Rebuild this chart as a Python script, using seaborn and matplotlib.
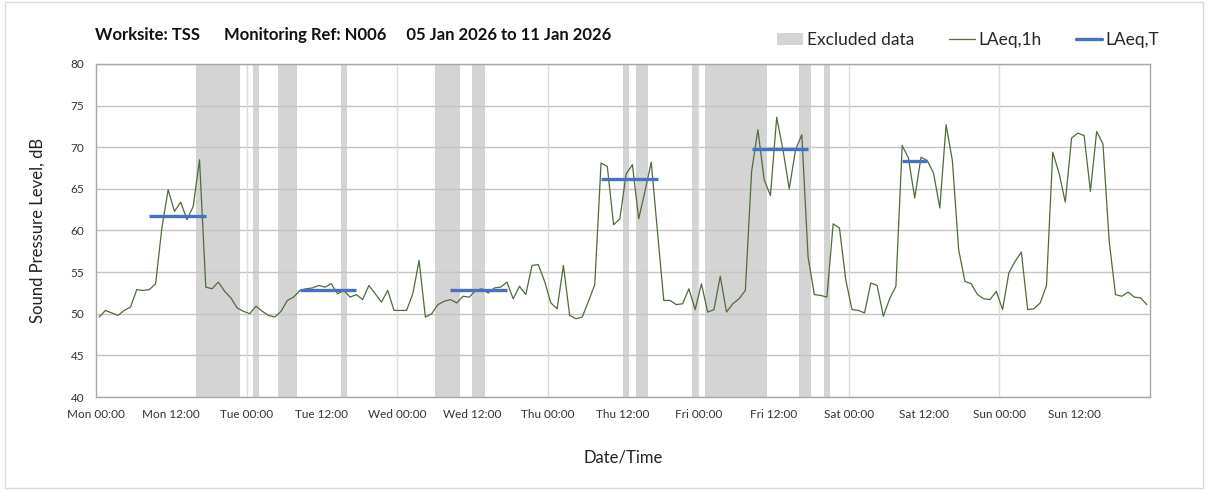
"""
Weekly noise monitoring chart: hourly LAeq with excluded periods and LAeq,T.
"""

import matplotlib
matplotlib.use("Agg")
import matplotlib.pyplot as plt
import numpy as np
import pandas as pd
import seaborn as sns
from matplotlib.lines import Line2D
from matplotlib.patches import Patch, Rectangle

sns.set_style("white")
plt.rcParams["font.family"] = ["Lato", "DejaVu Sans"]

# ---------------------------------------------------------------------------
# Data
# ---------------------------------------------------------------------------
day_names = ["Mon", "Tue", "Wed", "Thu", "Fri", "Sat", "Sun"]

laeq_mon = [49.6, 50.4, 50.1, 49.8, 50.4, 50.8, 52.9, 52.8, 52.9, 53.6, 60.3, 64.9,
            62.3, 63.4, 61.3, 62.9, 68.5, 53.2, 53.0, 53.8, 52.7, 51.9, 50.7, 50.3]
laeq_tue = [50.0, 50.9, 50.3, 49.8, 49.6, 50.3, 51.6, 52.0, 52.8, 53.0, 53.1, 53.4,
            53.2, 53.6, 52.4, 52.8, 52.0, 52.3, 51.7, 53.4, 52.4, 51.4, 52.8, 50.4]
laeq_wed = [50.4, 50.4, 52.4, 56.4, 49.6, 50.0, 51.1, 51.5, 51.7, 51.3, 52.1, 52.0,
            52.8, 53.0, 52.5, 53.1, 53.2, 53.8, 51.8, 53.3, 52.3, 55.8, 55.9, 53.9]
laeq_thu = [51.3, 50.6, 55.8, 49.8, 49.4, 49.6, 51.5, 53.5, 68.1, 67.7, 60.7, 61.4,
            66.8, 67.9, 61.4, 64.7, 68.2, 59.8, 51.6, 51.6, 51.1, 51.2, 53.0, 50.5]
laeq_fri = [53.6, 50.2, 50.5, 54.5, 50.2, 51.2, 51.8, 52.8, 67.1, 72.1, 66.1, 64.2,
            73.6, 69.7, 65.0, 69.7, 71.5, 56.8, 52.3, 52.2, 52.0, 60.8, 60.3, 54.1]
laeq_sat = [50.5, 50.4, 50.1, 53.7, 53.4, 49.7, 51.8, 53.3, 70.2, 68.7, 63.9, 68.8,
            68.4, 66.9, 62.7, 72.7, 68.4, 57.7, 53.9, 53.6, 52.3, 51.8, 51.7, 52.7]
laeq_sun = [50.5, 54.9, 56.3, 57.4, 50.5, 50.6, 51.3, 53.4, 69.4, 66.9, 63.4, 71.1,
            71.7, 71.4, 64.7, 71.9, 70.4, 58.7, 52.3, 52.1, 52.6, 52.0, 51.9, 51.1]

# excluded periods, hours from Mon 00:00
excl_start = [16, 25, 29, 39, 54, 60, 84, 86, 95, 97, 112, 116]
excl_end = [23, 26, 32, 40, 58, 62, 85, 88, 96, 107, 114, 117]

# LAeq,T assessment periods
period_start = [8, 32, 56, 80, 104, 128]
period_end = [18, 42, 66, 90, 114, 133]
laeq_t = [61.7, 52.8, 52.8, 66.2, 69.8, 68.4]

laeq_1h = laeq_mon + laeq_tue + laeq_wed + laeq_thu + laeq_fri + laeq_sat + laeq_sun
df = pd.DataFrame({"hour": np.arange(len(laeq_1h)) + 0.5, "LAeq_1h": laeq_1h})

n_hours = 24 * len(day_names)
tick_labels = [f"{d} {t}" for d in day_names for t in ("00:00", "12:00")] + [""]

GREEN = "#4f6b3b"
BLUE = "#4472c4"
GREY = "#d4d4d4"

# ---------------------------------------------------------------------------
# Plot
# ---------------------------------------------------------------------------
fig = plt.figure(figsize=(12.08, 4.9), dpi=100)
ax = fig.add_axes([96 / 1208, 1 - 397 / 490, (1150 - 96) / 1208, (397 - 64) / 490])

for s, e in zip(excl_start, excl_end):
    ax.axvspan(s, e, color=GREY, lw=0, zorder=0)

ax.set_axisbelow(True)
ax.grid(axis="y", color="#c4c4c4", lw=1.0)
for d in range(24, n_hours, 24):
    ax.axvline(d, color="#dcdcdc", lw=1.0, zorder=0.6)

sns.lineplot(data=df, x="hour", y="LAeq_1h", ax=ax, color=GREEN, lw=0.9, zorder=3)

for s, e, v in zip(period_start, period_end, laeq_t):
    ax.hlines(v, s + 0.5, e - 0.5, color=BLUE, lw=2.4, zorder=4, capstyle="butt")

ax.set_xlim(0, n_hours)
ax.set_ylim(40, 80)
ax.set_xticks(range(0, n_hours + 1, 12))
ax.set_xticklabels(tick_labels)
ax.set_yticks(range(40, 81, 5))
ax.tick_params(axis="both", labelsize=8.5, labelcolor="#333333", length=5,
               color="#a0a0a0", direction="out")
ax.tick_params(axis="x", pad=4)
for sp in ax.spines.values():
    sp.set_color("#a8a8a8")
    sp.set_linewidth(1.0)

ax.set_xlabel("Date/Time", fontsize=12, color="#222222", labelpad=21)
ax.set_ylabel("Sound Pressure Level, dB", fontsize=12, color="#222222", labelpad=18)

fig.text(95 / 1208, 1 - 35 / 490,
         "Worksite: TSS      Monitoring Ref: N006     05 Jan 2026 to 11 Jan 2026",
         fontsize=12, fontweight="bold", va="center", ha="left", color="#111111")

handles = [Patch(facecolor=GREY, edgecolor="none"),
           Line2D([], [], color=GREEN, lw=0.9),
           Line2D([], [], color=BLUE, lw=2.4)]
fig.legend(handles, ["Excluded data", "LAeq,1h", "LAeq,T"], loc="center right",
           bbox_to_anchor=(1175 / 1208, 1 - 40 / 490), ncol=3, frameon=False,
           fontsize=12.5, handlelength=1.5, handletextpad=0.2, columnspacing=2.0)

fig.patches.append(Rectangle((5 / 1208, 2 / 490), 1 - 10 / 1208, 1 - 4 / 490,
                             transform=fig.transFigure, fill=False,
                             edgecolor="#d9d9d9", lw=1.0))

fig.savefig("out.png", dpi=100)
